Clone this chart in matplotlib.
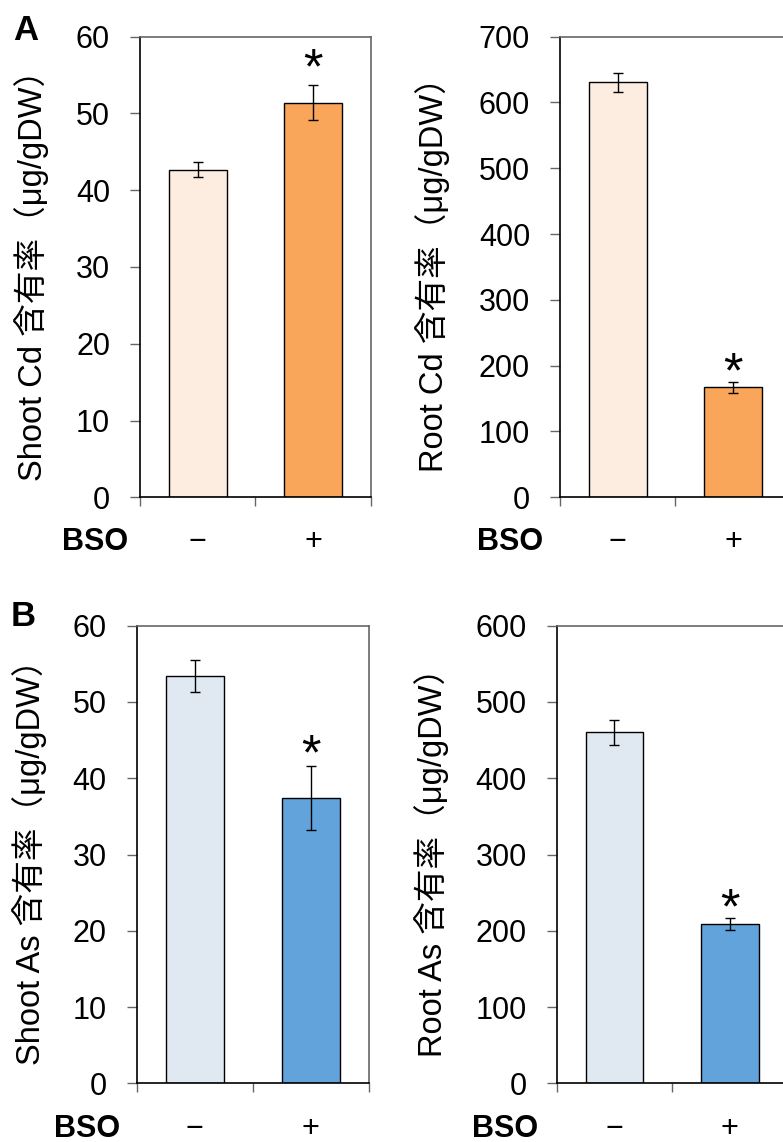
import matplotlib
matplotlib.use("Agg")
import matplotlib.pyplot as plt

plt.rcParams['font.family'] = ['Liberation Sans', 'Noto Sans CJK JP']

# data
bso = ['−', '+']
shoot_cd = [42.7, 51.4]
shoot_cd_err = [0.95, 2.3]
root_cd = [630.6, 167.0]
root_cd_err = [14.3, 8.7]
shoot_as = [53.4, 37.4]
shoot_as_err = [2.1, 4.15]
root_as = [460.3, 209.0]
root_as_err = [16.6, 7.6]
significant = [False, True]

cd_colors = ['#fdede0', '#f9a55a']
as_colors = ['#e0e8f2', '#62a3dc']

W, H = 783, 1142
fig = plt.figure(figsize=(W / 100, H / 100), dpi=100)


def fx(px):
    return px / W


def fy(py):
    return 1 - py / H


def panel(box, vals, errs, colors, ymax, ystep, ylabel, label_x, bso_right, row_y, star_gap):
    left, top, right, bottom = box
    ax = fig.add_axes([fx(left), fy(bottom), (right - left) / W, (bottom - top) / H])
    x = [0.5, 1.5]
    ax.bar(x, vals, width=0.5, color=colors, edgecolor='black', linewidth=1, zorder=2)
    ax.errorbar(x, vals, yerr=errs, fmt='none', ecolor='black', elinewidth=1,
                capsize=3.6, capthick=1, zorder=3)
    # asterisk glyph centre sits ~0.48 em above the baseline
    size = 36
    shift = (star_gap - 0.48 * size * 100 / 72) * 72 / 100
    for i in range(len(vals)):
        if significant[i]:
            ax.annotate('*', xy=(x[i], vals[i] + errs[i]), xytext=(0, shift),
                        textcoords='offset points', ha='center', va='baseline',
                        fontsize=size, family='Liberation Sans')
    ax.set_xlim(0, 2)
    ax.set_ylim(0, ymax)
    ax.set_yticks(range(0, ymax + 1, ystep))
    ax.set_xticks([0, 1, 2])
    ax.set_xticklabels([])
    ax.tick_params(axis='y', direction='out', length=7.2, width=1, color='#666666',
                   pad=14.4, labelsize=22)
    ax.tick_params(axis='x', direction='out', length=6.5, width=1, color='#666666')
    for s in ['left', 'bottom']:
        ax.spines[s].set_color('black')
        ax.spines[s].set_linewidth(1.2)
    for s in ['top', 'right']:
        ax.spines[s].set_color('#666666')
        ax.spines[s].set_linewidth(1.2)
    fig.text(fx(label_x), fy((top + bottom) / 2), ylabel, rotation=90,
             ha='center', va='center', fontsize=23.5)
    fig.text(fx(bso_right), fy(row_y), 'BSO', ha='right', va='center',
             fontsize=22, fontweight='bold')
    for i in range(len(bso)):
        ax.text(x[i], -(row_y - bottom) / (bottom - top), bso[i], ha='center',
                va='center', fontsize=22, transform=ax.get_xaxis_transform())
    return ax


panel((140, 36.7, 370.7, 497.3), shoot_cd, shoot_cd_err, cd_colors, 60, 10,
      'Shoot Cd 含有率（μg/gDW）', 32, 128, 542, 26)
panel((560, 36.7, 790.7, 497.3), root_cd, root_cd_err, cd_colors, 700, 100,
      'Root Cd 含有率（μg/gDW）', 433, 543, 542, 18)
panel((136.7, 625.7, 368.7, 1083.3), shoot_as, shoot_as_err, as_colors, 60, 10,
      'Shoot As 含有率（μg/gDW）', 30, 120, 1129, 21)
panel((556.7, 625.7, 787.4, 1083.3), root_as, root_as_err, as_colors, 600, 100,
      'Root As 含有率（μg/gDW）', 432, 538, 1129, 19)

fig.text(fx(26), fy(30), 'A', ha='center', va='center', fontsize=25, fontweight='bold')
fig.text(fx(23), fy(616), 'B', ha='center', va='center', fontsize=25, fontweight='bold')

fig.savefig('out.png', dpi=100)
